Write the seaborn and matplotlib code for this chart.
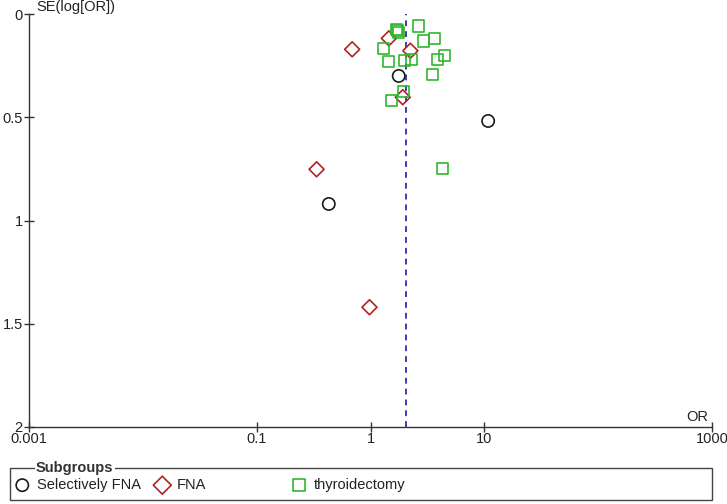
import matplotlib
matplotlib.use("Agg")
import matplotlib.pyplot as plt
import seaborn as sns
import pandas as pd
from matplotlib.patches import Rectangle

sns.set_style("white")
plt.rcParams['font.family'] = ['Liberation Sans', 'DejaVu Sans']

# ---- data ----
sel_or = [1.77, 10.8, 0.43]
sel_se = [0.300, 0.518, 0.920]

fna_or = [0.69, 1.45, 2.24, 1.92, 0.336, 0.98]
fna_se = [0.171, 0.118, 0.178, 0.403, 0.752, 1.420]

thy_or = [2.65, 1.68, 1.73, 1.77, 2.94, 3.64, 1.31, 4.46, 3.85, 1.45, 1.99, 2.29, 3.48, 1.96, 1.53, 4.26]
thy_se = [0.058, 0.073, 0.081, 0.091, 0.131, 0.120, 0.166, 0.203, 0.221, 0.231, 0.226, 0.221, 0.292, 0.376, 0.421, 0.747]

pooled_or = 2.07
x_ticks = [0.001, 0.1, 1, 10, 1000]
x_ticklabels = ["0.001", "0.1", "1", "10", "1000"]
y_ticks = [0, 0.5, 1, 1.5, 2]
y_ticklabels = ["0", "0.5", "1", "1.5", "2"]
group_names = ["Selectively FNA", "FNA", "thyroidectomy"]

df = pd.concat([
    pd.DataFrame({"OR": sel_or, "SE": sel_se, "group": group_names[0]}),
    pd.DataFrame({"OR": fna_or, "SE": fna_se, "group": group_names[1]}),
    pd.DataFrame({"OR": thy_or, "SE": thy_se, "group": group_names[2]}),
])

styles = {
    group_names[0]: dict(marker="o", color="#1a1a1a", s=78, ms=1.0),
    group_names[1]: dict(marker="D", color="#B22222", s=58, ms=1.2),
    group_names[2]: dict(marker="s", color="#2DB82D", s=64, ms=1.05),
}

FS = 10.5
fig = plt.figure(figsize=(7.27, 5.04), dpi=100)
ax = fig.add_axes([29/727, 1-427/504, (712-29)/727, (427-14)/504])

ax.axvline(pooled_or, color="#1c1caa", lw=1.2, ls=(0, (3.5, 3)), zorder=1)

for g in group_names:
    st = styles[g]
    sns.scatterplot(data=df[df.group == g], x="OR", y="SE", ax=ax,
                    marker=st["marker"], s=st["s"], facecolors="none",
                    edgecolor=st["color"], linewidth=1.2, label=g,
                    legend=False, zorder=3)

ax.set_xscale("log")
ax.set_xlim(0.001, 1000)
ax.set_ylim(2, 0)
ax.set_xticks(x_ticks)
ax.set_xticklabels(x_ticklabels)
ax.set_yticks(y_ticks)
ax.set_yticklabels(y_ticklabels)
ax.minorticks_off()
ax.set_xlabel("")
ax.set_ylabel("")
for side in ["top", "right"]:
    ax.spines[side].set_visible(False)
for side in ["left", "bottom"]:
    ax.spines[side].set_color("#333333")
    ax.spines[side].set_linewidth(1.0)
ax.tick_params(axis="both", which="major", bottom=True, left=True,
               direction="inout", length=7, width=1.0,
               colors="#333333", labelcolor="#222222", labelsize=FS)
ax.tick_params(axis="x", pad=0)
ax.tick_params(axis="y", pad=1)
ax.grid(False)

ax.annotate("SE(log[OR])", xy=(0, 1), xycoords="axes fraction",
            xytext=(5, 0), textcoords="offset points",
            ha="left", va="bottom", fontsize=FS, color="#222222")
ax.annotate("OR", xy=(1, 0), xycoords="axes fraction",
            xytext=(-3, 2), textcoords="offset points",
            ha="right", va="bottom", fontsize=FS, color="#222222")

# ---- legend ----
handles, labels = ax.get_legend_handles_labels()
lefts = [15/727, 155/727, 292/727]
for h, l, x0 in zip(handles, labels, lefts):
    leg = fig.legend(handles=[h], labels=[l], loc="center left",
                     bbox_to_anchor=(x0, 1-485/504), frameon=False,
                     handlelength=1.0, handletextpad=0.5, borderpad=0,
                     borderaxespad=0, fontsize=FS,
                     markerscale=styles[l]["ms"])
    for t in leg.get_texts():
        t.set_color("#222222")

fig.add_artist(Rectangle((10/727, 1-500/504), (712-10)/727, (500-468)/504,
                         transform=fig.transFigure, fill=False,
                         edgecolor="#444444", linewidth=1.0))
fig.text(36/727, 1-468/504, "Subgroups", fontsize=FS, fontweight="bold",
         color="#333333", ha="left", va="center",
         bbox=dict(facecolor="white", edgecolor="none", pad=1))

fig.savefig("out.png", dpi=100)
